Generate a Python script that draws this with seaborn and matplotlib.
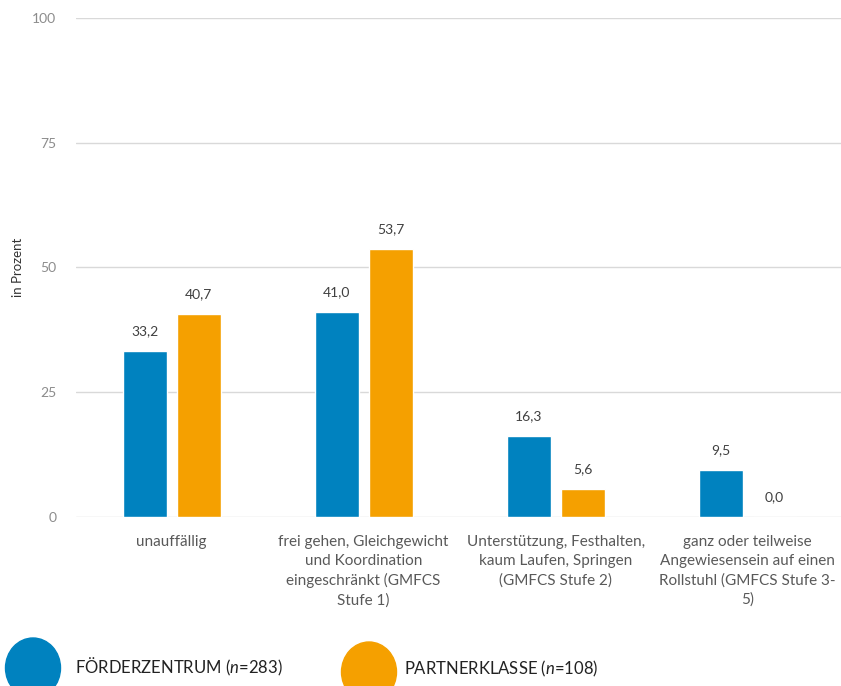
import matplotlib
matplotlib.use("Agg")
import matplotlib.pyplot as plt
from matplotlib.patches import Ellipse
import seaborn as sns
import pandas as pd

categories = [
    "unauffällig",
    "frei gehen, Gleichgewicht\nund Koordination\neingeschränkt (GMFCS\nStufe 1)",
    "Unterstützung, Festhalten,\nkaum Laufen, Springen\n(GMFCS Stufe 2)",
    "ganz oder teilweise\nAngewiesensein auf einen\nRollstuhl (GMFCS Stufe 3-\n5)",
]
foerderzentrum = [33.2, 41.0, 16.3, 9.5]
partnerklasse = [40.7, 53.7, 5.6, 0.0]
series_names = ["FÖRDERZENTRUM", "PARTNERKLASSE"]
series_n = [283, 108]
y_ticks = [0, 25, 50, 75, 100]

colors = ["#0082BF", "#F5A000"]

sns.set_style("white")
plt.rcParams["font.family"] = ["Lato", "DejaVu Sans"]
plt.rcParams["mathtext.fontset"] = "custom"
plt.rcParams["mathtext.it"] = "Lato:italic"
plt.rcParams["mathtext.rm"] = "Lato"

df = pd.DataFrame({
    "Kategorie": categories * 2,
    "Gruppe": [series_names[0]] * 4 + [series_names[1]] * 4,
    "Wert": foerderzentrum + partnerklasse,
})

fig = plt.figure(figsize=(8.41, 6.86), dpi=100)
ax = fig.add_axes([0.090, 0.2464, 0.913, 0.7274])

sns.barplot(data=df, x="Kategorie", y="Wert", hue="Gruppe", palette=colors,
            width=0.5625, gap=0.185, ax=ax, legend=False, saturation=1)

for cont in ax.containers:
    ax.bar_label(cont, labels=[f"{v:.1f}".replace(".", ",") for v in cont.datavalues],
                 padding=10, fontsize=10, color="#404040")

ax.set_ylim(0, 100)
ax.set_xlim(-0.5, 3.5)
ax.set_yticks(y_ticks)
ax.set_yticklabels([str(t) for t in y_ticks], color="#8c8c8c", fontsize=10)
ax.tick_params(axis="y", length=0, pad=14)
ax.tick_params(axis="x", length=0, pad=13)
ax.set_xticks(range(len(categories)))
ax.set_xticklabels(categories, color="#595959", fontsize=11, linespacing=1.45)
ax.set_xlabel("")
ax.set_ylabel("in Prozent", fontsize=9.5, color="#333333")
ax.yaxis.set_label_coords(-(76 - 18) / (0.913 * 841), 0.5)
ax.yaxis.label.set_va("center")
ax.yaxis.grid(True, color="#d9d9d9", linewidth=1)
ax.set_axisbelow(True)
for s in ax.spines.values():
    s.set_visible(False)

# legend
W, H = 841, 686
for (cx, cy, tx, ty), name, n, c in zip(
        [(33, 668, 75, 667), (369, 672, 404, 669)], series_names, series_n, colors):
    e = Ellipse((cx / W, 1 - cy / H), 55 / W, 60 / H, transform=fig.transFigure,
                color=c, clip_on=False)
    fig.patches.append(e)
    fig.text(tx / W, 1 - ty / H, f"{name} ($\\it{{n}}$={n})", fontsize=12,
             color="#222222", va="center", ha="left")

fig.savefig("out.png", dpi=100)
